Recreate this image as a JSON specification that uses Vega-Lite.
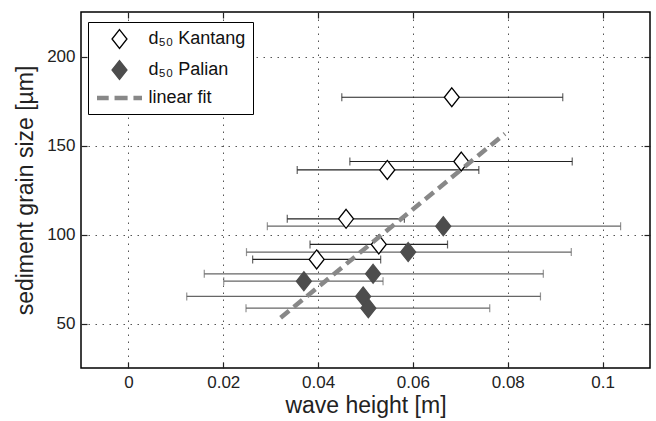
{
  "$schema": "https://vega.github.io/schema/vega-lite/v6.json",
  "width": 569,
  "height": 356,
  "autosize": {"type": "none"},
  "padding": {"left": 81, "top": 12, "right": 6, "bottom": 53},
  "background": "white",
  "config": {
    "view": {"stroke": "black", "strokeWidth": 1.5},
    "font": "Liberation Sans",
    "axis": {
      "labelFont": "Liberation Sans",
      "labelFontSize": 17,
      "labelColor": "#222",
      "titleFont": "Liberation Sans",
      "titleFontSize": 23,
      "titleFontWeight": "normal",
      "titleColor": "#222",
      "domain": false,
      "tickColor": "#222",
      "tickWidth": 1.2
    },
    "legend": {
      "orient": "none",
      "legendX": 7,
      "legendY": 10,
      "padding": 7,
      "strokeColor": "black",
      "fillColor": "white",
      "symbolSize": 324,
      "symbolOffset": 14.5,
      "labelOffset": 19,
      "labelFont": "Liberation Sans",
      "labelFontSize": 18,
      "labelColor": "#111",
      "rowPadding": 5,
      "symbolStrokeWidth": 1.3
    }
  },
  "datasets": {
    "pts": [
      {"series": "d₅₀ Kantang", "h": 0.0682, "d": 177.1, "lo": 0.0450, "hi": 0.0916},
      {"series": "d₅₀ Kantang", "h": 0.0702, "d": 141.0, "lo": 0.0467, "hi": 0.0936},
      {"series": "d₅₀ Kantang", "h": 0.0546, "d": 136.3, "lo": 0.0356, "hi": 0.0739},
      {"series": "d₅₀ Kantang", "h": 0.0459, "d": 108.8, "lo": 0.0335, "hi": 0.0582},
      {"series": "d₅₀ Kantang", "h": 0.0528, "d": 94.4, "lo": 0.0383, "hi": 0.0673},
      {"series": "d₅₀ Kantang", "h": 0.0397, "d": 86.0, "lo": 0.0262, "hi": 0.0532},
      {"series": "d₅₀ Palian", "h": 0.0664, "d": 104.7, "lo": 0.0293, "hi": 0.1038},
      {"series": "d₅₀ Palian", "h": 0.0590, "d": 90.1, "lo": 0.0249, "hi": 0.0934},
      {"series": "d₅₀ Palian", "h": 0.0516, "d": 77.9, "lo": 0.0160, "hi": 0.0875},
      {"series": "d₅₀ Palian", "h": 0.0370, "d": 73.8, "lo": 0.0201, "hi": 0.0537},
      {"series": "d₅₀ Palian", "h": 0.0495, "d": 65.2, "lo": 0.0123, "hi": 0.0869},
      {"series": "d₅₀ Palian", "h": 0.0506, "d": 58.6, "lo": 0.0248, "hi": 0.0762}
    ],
    "fit": [
      {"series": "linear fit", "h": 0.0321, "d": 53.2},
      {"series": "linear fit", "h": 0.0794, "d": 156.6}
    ]
  },
  "resolve": {"axis": {"x": "independent", "y": "independent"}},
  "layer": [
    {
      "data": {"name": "pts"},
      "mark": {"type": "rule", "strokeWidth": 1.2},
      "encoding": {
        "x": {
          "field": "lo", "type": "quantitative",
          "scale": {"domain": [-0.01, 0.11], "nice": false, "zero": false},
          "axis": {
            "orient": "bottom",
            "values": [0, 0.02, 0.04, 0.06, 0.08, 0.1],
            "format": "~g",
            "grid": true, "gridDash": [1.5, 5.5], "gridColor": "#555", "gridWidth": 1,
            "tickSize": -6, "labelPadding": 12,
            "title": "wave height [m]", "titlePadding": 4
          }
        },
        "x2": {"field": "hi"},
        "y": {
          "field": "d", "type": "quantitative",
          "scale": {"domain": [25, 225], "nice": false, "zero": false},
          "axis": {
            "orient": "left",
            "values": [50, 100, 150, 200],
            "grid": true, "gridDash": [1.5, 5.5], "gridColor": "#555", "gridWidth": 1,
            "tickSize": -6, "labelPadding": 12,
            "title": "sediment grain size [µm]", "titlePadding": 9
          }
        },
        "color": {
          "field": "series", "type": "nominal",
          "scale": {"domain": ["d₅₀ Kantang", "d₅₀ Palian"], "range": ["#222222", "#666666"]},
          "legend": null
        }
      }
    },
    {
      "data": {"name": "pts"},
      "mark": {"type": "tick", "orient": "vertical", "size": 8, "thickness": 1.2},
      "encoding": {
        "x": {"field": "lo", "type": "quantitative", "axis": null},
        "y": {"field": "d", "type": "quantitative", "axis": null},
        "color": {"field": "series", "type": "nominal", "legend": null}
      }
    },
    {
      "data": {"name": "pts"},
      "mark": {"type": "tick", "orient": "vertical", "size": 8, "thickness": 1.2},
      "encoding": {
        "x": {"field": "hi", "type": "quantitative", "axis": null},
        "y": {"field": "d", "type": "quantitative", "axis": null},
        "color": {"field": "series", "type": "nominal", "legend": null}
      }
    },
    {
      "data": {"name": "pts"},
      "mark": {"type": "point", "filled": true, "size": 324, "strokeWidth": 1.3, "opacity": 1},
      "encoding": {
        "x": {"field": "h", "type": "quantitative", "axis": null},
        "y": {"field": "d", "type": "quantitative", "axis": null},
        "shape": {
          "field": "series", "type": "nominal",
          "scale": {
            "domain": ["d₅₀ Kantang", "d₅₀ Palian", "linear fit"],
            "range": [
              "M0,-1.05L0.83,0L0,1.05L-0.83,0Z",
              "M0,-1.05L0.83,0L0,1.05L-0.83,0Z",
              "M-2.5,-0.25H-1.2V0.25H-2.5Z M-0.55,-0.25H0.9V0.25H-0.55Z M1.55,-0.25H2.5V0.25H1.55Z"
            ]
          },
          "legend": {"title": null}
        },
        "fill": {
          "field": "series", "type": "nominal",
          "scale": {"domain": ["d₅₀ Kantang", "d₅₀ Palian", "linear fit"], "range": ["white", "#4d4d4d", "#888888"]},
          "legend": {"title": null}
        },
        "stroke": {
          "field": "series", "type": "nominal",
          "scale": {"domain": ["d₅₀ Kantang", "d₅₀ Palian", "linear fit"], "range": ["black", "#4d4d4d", "transparent"]},
          "legend": {"title": null}
        }
      }
    },
    {
      "data": {"name": "fit"},
      "mark": {"type": "line", "strokeWidth": 4.5, "strokeDash": [11, 6], "color": "#888888"},
      "encoding": {
        "x": {
          "field": "h", "type": "quantitative",
          "axis": {
            "orient": "top", "values": [0, 0.02, 0.04, 0.06, 0.08, 0.1],
            "labels": false, "grid": false, "tickSize": -6, "title": null
          }
        },
        "y": {
          "field": "d", "type": "quantitative",
          "axis": {
            "orient": "right", "values": [50, 100, 150, 200],
            "labels": false, "grid": false, "tickSize": -6, "title": null
          }
        }
      }
    }
  ]
}
